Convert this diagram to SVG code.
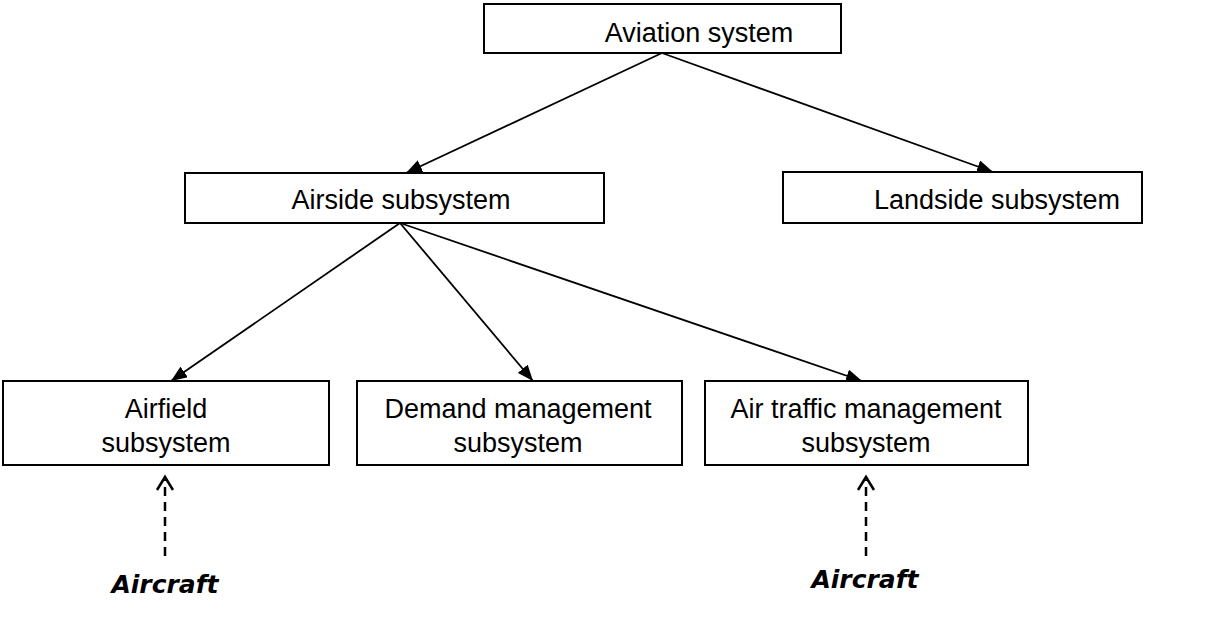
<svg xmlns="http://www.w3.org/2000/svg" width="1212" height="623" viewBox="0 0 1212 623">
  <style>
    .box { fill: #ffffff; stroke: #000000; stroke-width: 2; }
    .label { font-family: "Liberation Sans", Arial, sans-serif; font-size: 27px; fill: #000000; text-anchor: middle; }
    .edge { stroke: #000000; stroke-width: 1.8; fill: none; }
    .input { stroke: #000000; stroke-width: 2.5; fill: none; stroke-dasharray: 9 6; }
    .chevron { stroke: #000000; stroke-width: 2.5; fill: none; }
    .source { font-family: "DejaVu Sans", "Liberation Sans", sans-serif; font-size: 25px; font-weight: bold; font-style: italic; fill: #000000; text-anchor: middle; }
  </style>
  <defs>
    <marker id="arrow" viewBox="0 0 16 13" refX="16" refY="6.5" markerWidth="16" markerHeight="13" markerUnits="userSpaceOnUse" orient="auto">
      <path d="M0,0 L16,6.5 L0,13 Z" fill="#000000"/>
    </marker>
  </defs>
  <rect width="1212" height="623" fill="#ffffff"/>

  <g id="connectors">
    <line class="edge" x1="662" y1="53" x2="406" y2="173" marker-end="url(#arrow)"/>
    <line class="edge" x1="662" y1="53" x2="993" y2="172" marker-end="url(#arrow)"/>
    <line class="edge" x1="400" y1="223" x2="171" y2="381" marker-end="url(#arrow)"/>
    <line class="edge" x1="400" y1="223" x2="533" y2="381" marker-end="url(#arrow)"/>
    <line class="edge" x1="400" y1="223" x2="862" y2="381" marker-end="url(#arrow)"/>
    <line class="input" x1="165" y1="556" x2="165" y2="480"/>
    <path class="chevron" d="M157,490 L165,477 L173,490"/>
    <line class="input" x1="866" y1="556" x2="866" y2="480"/>
    <path class="chevron" d="M858,490 L866,477 L874,490"/>
  </g>

  <g id="aviation-system">
    <rect class="box" x="484" y="4" width="357" height="49"/>
    <text class="label" x="699" y="42">Aviation system</text>
  </g>
  <g id="airside-subsystem">
    <rect class="box" x="185" y="173" width="419" height="50"/>
    <text class="label" x="401" y="209">Airside subsystem</text>
  </g>
  <g id="landside-subsystem">
    <rect class="box" x="783" y="172" width="359" height="51"/>
    <text class="label" x="997" y="209">Landside subsystem</text>
  </g>
  <g id="airfield-subsystem">
    <rect class="box" x="3" y="381" width="326" height="84"/>
    <text class="label" x="166" y="418">Airfield</text>
    <text class="label" x="166" y="452">subsystem</text>
  </g>
  <g id="demand-management-subsystem">
    <rect class="box" x="357" y="381" width="325" height="84"/>
    <text class="label" x="518" y="418">Demand management</text>
    <text class="label" x="518" y="452">subsystem</text>
  </g>
  <g id="air-traffic-management-subsystem">
    <rect class="box" x="705" y="381" width="323" height="84"/>
    <text class="label" x="866" y="418">Air traffic management</text>
    <text class="label" x="866" y="452">subsystem</text>
  </g>

  <g id="aircraft-left">
    <text class="source" x="165" y="593">Aircraft</text>
  </g>
  <g id="aircraft-right">
    <text class="source" x="865" y="588">Aircraft</text>
  </g>
</svg>
